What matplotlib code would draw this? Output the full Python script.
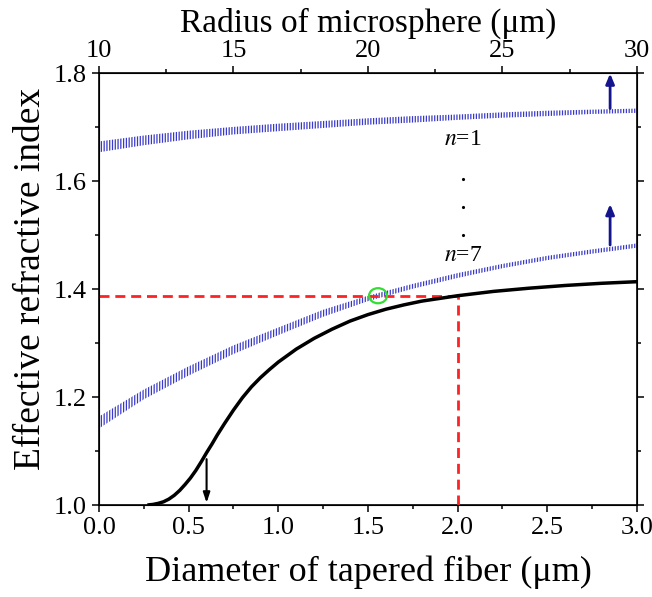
import numpy as np
import matplotlib
matplotlib.use('Agg')
import matplotlib.pyplot as plt
from matplotlib.patches import Ellipse
from matplotlib.ticker import MultipleLocator

plt.rcParams['font.family'] = ['Liberation Serif', 'DejaVu Serif']
plt.rcParams['mathtext.fontset'] = 'stix'
plt.rcParams['hatch.linewidth'] = 0.9

# black curve: fundamental mode of the tapered fiber
fib_d = [0.27, 0.30, 0.33, 0.36, 0.39, 0.42, 0.45, 0.48, 0.51, 0.54, 0.57, 0.60,
         0.63, 0.66, 0.70, 0.75, 0.80, 0.85, 0.90, 0.95, 1.00, 1.05, 1.10, 1.15,
         1.20, 1.30, 1.40, 1.50, 1.60, 1.70, 1.80, 1.90, 2.00, 2.20, 2.40, 2.60,
         2.80, 3.00]
fib_n = [1.000, 1.001, 1.003, 1.006, 1.011, 1.018, 1.027, 1.038, 1.050, 1.064,
         1.080, 1.097, 1.113, 1.130, 1.151, 1.176, 1.199, 1.219, 1.236, 1.251,
         1.265, 1.277, 1.289, 1.299, 1.309, 1.326, 1.341, 1.353, 1.363, 1.371,
         1.378, 1.383, 1.388, 1.396, 1.402, 1.407, 1.411, 1.414]

# microsphere WGM bands (lower / upper edge)
band_x = [0.0, 0.25, 0.5, 0.75, 1.0, 1.25, 1.5, 1.75, 2.0, 2.25, 2.5, 2.75, 3.0]
n1_lo = [1.654, 1.667, 1.678, 1.687, 1.693, 1.699, 1.705, 1.709, 1.714, 1.718, 1.721, 1.725, 1.727]
n1_hi = [1.674, 1.685, 1.694, 1.701, 1.707, 1.712, 1.717, 1.721, 1.724, 1.728, 1.731, 1.733, 1.735]
n7_lo = [1.142, 1.196, 1.240, 1.280, 1.315, 1.349, 1.378, 1.401, 1.421, 1.439, 1.454, 1.466, 1.477]
n7_hi = [1.164, 1.214, 1.257, 1.296, 1.329, 1.362, 1.388, 1.410, 1.430, 1.447, 1.462, 1.474, 1.485]

# operating point
d_op = 2.0
n_op = 1.387

fig = plt.figure(figsize=(6.52, 5.97), dpi=100)
ax = fig.add_axes([0.1518, 0.1541, 0.8252, 0.7228])

blue = '#3a3ac8'
ax.fill_between(band_x, n1_lo, n1_hi, facecolor='none', edgecolor=blue,
                hatch='||||||', linewidth=0)
ax.fill_between(band_x, n7_lo, n7_hi, facecolor='none', edgecolor=blue,
                hatch='||||||', linewidth=0)

ax.plot(fib_d, fib_n, color='black', lw=2.5, solid_capstyle='butt', zorder=4)

ax.plot([0, d_op], [n_op, n_op], color='#ff2222', lw=2, dashes=[3.6, 2.1], zorder=3)
ax.plot([d_op, d_op], [1.0, n_op], color='#ff2222', lw=2, dashes=[3.6, 2.1], zorder=3)

ax.add_patch(Ellipse((1.556, 1.388), 0.10, 0.028, fill=False,
                     edgecolor='#33dd33', lw=1.6, zorder=5))

arr_blue = dict(arrowstyle='-|>,head_width=0.25,head_length=0.6',
                color='#14148c', lw=2, shrinkA=0, shrinkB=0)
ax.annotate('', xy=(2.85, 1.800), xytext=(2.85, 1.735), arrowprops=arr_blue)
ax.annotate('', xy=(2.85, 1.558), xytext=(2.85, 1.482), arrowprops=arr_blue)
arr_black = dict(arrowstyle='-|>,head_width=0.2,head_length=0.6',
                 color='black', lw=1.5, shrinkA=0, shrinkB=0)
ax.annotate('', xy=(0.6, 1.004), xytext=(0.6, 1.085), arrowprops=arr_black)

ax.text(2.03, 1.678, '$n$=1', fontsize=17, ha='center', va='center')
ax.text(2.03, 1.462, '$n$=7', fontsize=17, ha='center', va='center')
ax.plot([2.03, 2.03, 2.03], [1.605, 1.553, 1.500], 'k.', ms=2.5)

ax.set_xlim(0, 3.0)
ax.set_ylim(1.0, 1.8)
ax.xaxis.set_major_locator(MultipleLocator(0.5))
ax.xaxis.set_minor_locator(MultipleLocator(0.25))
ax.yaxis.set_major_locator(MultipleLocator(0.2))
ax.yaxis.set_minor_locator(MultipleLocator(0.1))
ax.xaxis.set_major_formatter(plt.FormatStrFormatter('%.1f'))
ax.yaxis.set_major_formatter(plt.FormatStrFormatter('%.1f'))
ax.tick_params(which='both', direction='out', right=True, width=1.1, labelsize=19)
ax.tick_params(which='major', length=5)
ax.tick_params(which='minor', length=3)
for s in ax.spines.values():
    s.set_linewidth(1.2)
ax.set_xlabel('Diameter of tapered fiber (μm)', fontsize=26, labelpad=12)
ax.set_ylabel('Effective refractive index', fontsize=27)
ax.yaxis.set_label_coords(-0.094, 0.525)

top = ax.twiny()
top.set_xlim(10, 30)
top.xaxis.set_major_locator(MultipleLocator(5))
top.xaxis.set_minor_locator(MultipleLocator(2.5))
top.tick_params(which='both', direction='out', width=1.1, labelsize=19)
top.tick_params(which='major', length=5)
top.tick_params(which='minor', length=3)
top.set_xlabel('Radius of microsphere (μm)', fontsize=24, labelpad=6)

fig.savefig('out.png', dpi=100)
